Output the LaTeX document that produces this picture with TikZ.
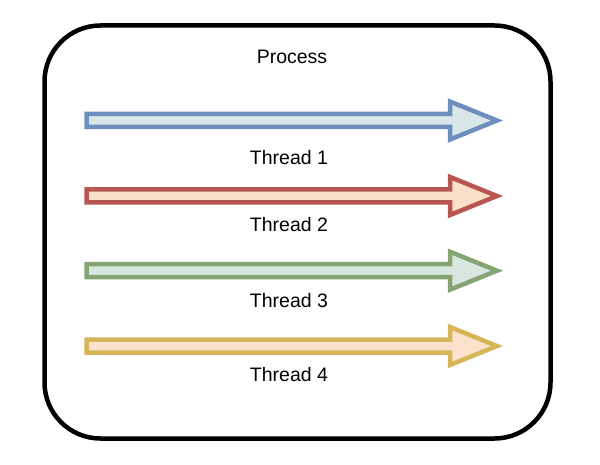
\documentclass[tikz,border=0pt]{standalone}
\usepackage{fontspec}
\setmainfont{Liberation Sans}
\definecolor{bstroke}{RGB}{110,143,190}
\definecolor{bfill}{RGB}{216,231,232}
\definecolor{rstroke}{RGB}{184,86,82}
\definecolor{rfill}{RGB}{251,224,200}
\definecolor{gstroke}{RGB}{132,164,116}
\definecolor{gfill}{RGB}{216,230,224}
\definecolor{ystroke}{RGB}{214,182,88}
\definecolor{yfill}{RGB}{252,226,204}
\begin{document}
\begin{tikzpicture}[x=1pt,y=-1pt,
  lbl/.style={inner sep=0pt, font=\fontsize{19.5}{23}\selectfont},
  blockarrow/.style={line width=4.5pt, line join=miter}]
\useasboundingbox (0,0) rectangle (600,465);
\draw[line width=4.5pt, rounded corners=56pt] (44.5,25.5) rectangle (550.5,438.5);
\node[lbl] (process) at (292,57) {Process};
\foreach \c/\s/\f in {120.5/bstroke/bfill, 196/rstroke/rfill, 270.7/gstroke/gfill, 346/ystroke/yfill}{
  \draw[blockarrow, draw=\s, fill=\f] (86.5,\c-6.5) -- (450,\c-6.5) -- (450,\c-19) -- (497,\c) -- (450,\c+19) -- (450,\c+6.5) -- (86.5,\c+6.5) -- cycle;
}
\node[lbl] (t1) at (289,157.5) {Thread 1};
\node[lbl] (t2) at (289,225) {Thread 2};
\node[lbl] (t3) at (289,300.8) {Thread 3};
\node[lbl] (t4) at (289,375) {Thread 4};
\end{tikzpicture}
\end{document}
